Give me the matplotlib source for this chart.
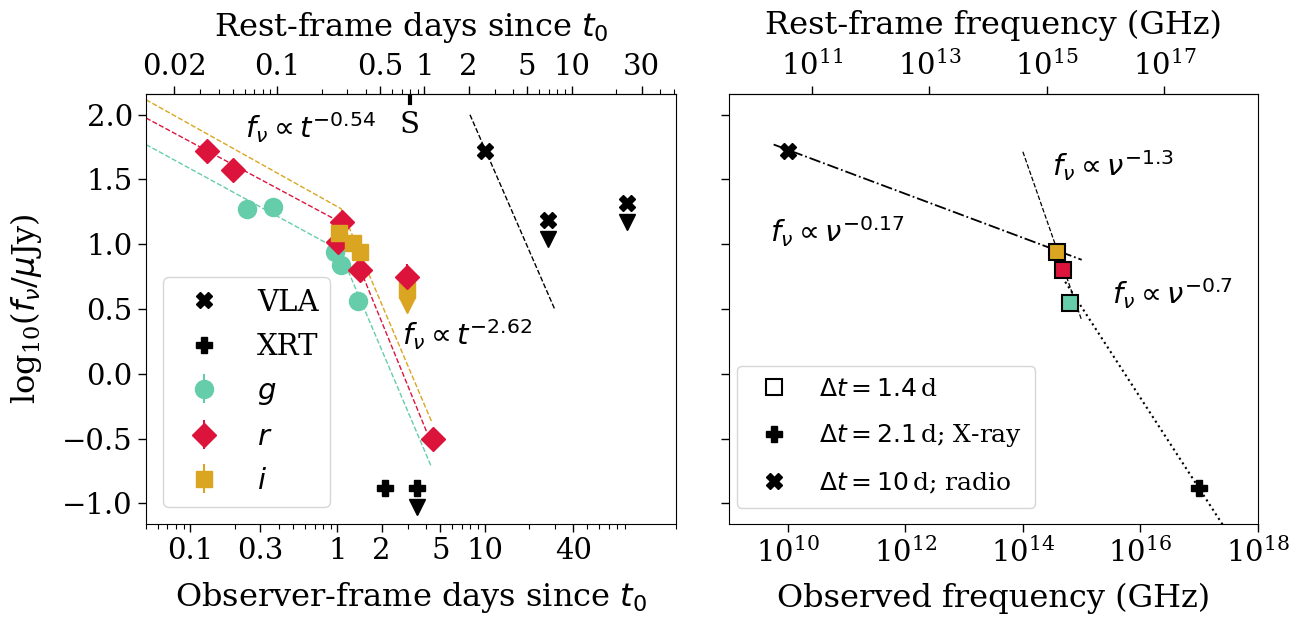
import numpy as np
import matplotlib
matplotlib.use("Agg")
import matplotlib.pyplot as plt
from matplotlib.ticker import FuncFormatter, NullFormatter, NullLocator, LogFormatterSciNotation

plt.rcParams['font.family'] = ['DejaVu Serif']
plt.rcParams['mathtext.fontset'] = 'dejavusans'
plt.rcParams['font.size'] = 21

# redshift factor (1+z) for the rest-frame axes
one_plus_z = 3.9

# ---------- left panel: light curves (observer-frame days, log10 flux in uJy) ----------
g_t = [0.243, 0.366, 0.96, 1.05, 1.39]
g_f = [1.27, 1.29, 0.94, 0.84, 0.56]
g_e = [0.03, 0.03, 0.03, 0.03, 0.04]

r_t = [0.129, 0.195, 1.07, 1.01, 1.42, 2.96, 4.44]
r_f = [1.72, 1.575, 1.17, 1.02, 0.80, 0.75, -0.50]
r_e = [0.03, 0.03, 0.03, 0.03, 0.03, 0.10, 0.04]

i_t = [1.03, 1.28, 1.42]
i_f = [1.09, 1.01, 0.94]
i_e = [0.03, 0.03, 0.03]
i_ul_t = [2.96]
i_ul_f = [0.65]

vla_t = [10.0]
vla_f = [1.72]
vla_ul_t = [27.2, 92.8]
vla_ul_f = [1.19, 1.32]

xrt_t = [2.12]
xrt_f = [-0.88]
xrt_ul_t = [3.47]
xrt_ul_f = [-0.88]

# broken power-law model lines (start, break, end)
g_model_t = [0.05, 1.03, 4.32]
g_model_f = [1.77, 0.955, -0.71]
r_model_t = [0.05, 1.06, 4.08]
r_model_f = [1.975, 1.167, -0.46]
i_model_t = [0.05, 1.06, 4.37]
i_model_f = [2.116, 1.274, -0.37]
radio_model_t = [7.96, 30.2]
radio_model_f = [2.0, 0.49]

spec_epoch = 3.1

# ---------- right panel: SED ----------
sed_nu = [3.8e14, 4.8e14, 6.3e14]
sed_f = [0.94, 0.80, 0.55]
sed_col = ['goldenrod', 'crimson', 'mediumaquamarine']
sed_radio_nu = [1e10]
sed_radio_f = [1.72]
sed_xray_nu = [1e17]
sed_xray_f = [-0.88]

pl017_nu = [10**9.76, 1e15]
pl017_f = [1.77, 0.88]
pl13_nu = [1e14, 1e15]
pl13_f = [1.714, 0.414]
pl07_nu = [10**14.72, 10**17.6]
pl07_f = [0.71, -1.306]

ul_drop = 0.15

fig = plt.figure(figsize=(13.02, 6.18), dpi=100)
ax1 = fig.add_axes([0.1121, 0.1521, 0.4071, 0.6958])
ax2 = fig.add_axes([0.5599, 0.1521, 0.4063, 0.6958], sharey=ax1)

ms = 12
# model lines
ax1.plot(g_model_t, g_model_f, '--', color='mediumaquamarine', lw=1)
ax1.plot(r_model_t, r_model_f, '--', color='crimson', lw=1)
ax1.plot(i_model_t, i_model_f, '--', color='goldenrod', lw=1)
ax1.plot(radio_model_t, radio_model_f, '--', color='k', lw=1)

ax1.plot(vla_t, vla_f, 'X', color='k', ms=ms, label='VLA', ls='none')
ax1.plot(vla_ul_t, vla_ul_f, 'X', color='k', ms=ms, ls='none')
ax1.plot(vla_ul_t, np.array(vla_ul_f) - ul_drop, 'v', color='k', ms=ms, ls='none')
ax1.plot(xrt_t, xrt_f, 'P', color='k', ms=ms, label='XRT', ls='none')
ax1.plot(xrt_ul_t, xrt_ul_f, 'P', color='k', ms=ms, ls='none')
ax1.plot(xrt_ul_t, np.array(xrt_ul_f) - ul_drop, 'v', color='k', ms=ms, ls='none')

ax1.errorbar(g_t, g_f, yerr=g_e, fmt='o', color='mediumaquamarine', ms=13, label='$g$')
ax1.errorbar(r_t, r_f, yerr=r_e, fmt='D', color='crimson', ms=ms, label='$r$')
ax1.errorbar(i_t, i_f, yerr=i_e, fmt='s', color='goldenrod', ms=ms, label='$i$')
ax1.plot(i_ul_t, i_ul_f, 's', color='goldenrod', ms=ms, ls='none')
ax1.plot(i_ul_t, np.array(i_ul_f) - ul_drop + 0.03, 'v', color='goldenrod', ms=ms, ls='none')

ax1.axvline(spec_epoch, ymin=0.978, ymax=1.0, color='k', lw=3)
ax1.text(spec_epoch, 1.92, 'S', ha='center', va='center')
ax1.text(0.235, 1.90, r'$f_\nu \propto t^{-0.54}$', ha='left', va='center')
ax1.text(2.75, 0.30, r'$f_\nu \propto t^{-2.62}$', ha='left', va='center')

ax1.set_xscale('log')
ax1.set_xlim(0.05, 200)
ax1.set_ylim(-1.16, 2.16)
ax1.set_xticks([0.1, 0.3, 1, 2, 5, 10, 40])
ax1.xaxis.set_major_formatter(FuncFormatter(lambda v, p: f'{v:g}'))
ax1.xaxis.set_minor_formatter(NullFormatter())
ax1.set_yticks([-1.0, -0.5, 0.0, 0.5, 1.0, 1.5, 2.0])
ax1.set_xlabel('Observer-frame days since $t_0$', fontsize=23, labelpad=11)
ax1.set_ylabel(r'log$_{\mathdefault{10}}$($f_\nu$/$\mu$Jy)', fontsize=23, labelpad=13)
ax1.legend(loc='lower left', fontsize=21, borderaxespad=0.6, handletextpad=0.8,
           labelspacing=0.55)

top1 = ax1.secondary_xaxis('top', functions=(lambda t: t / one_plus_z, lambda t: t * one_plus_z))
top1.set_ticks([0.02, 0.1, 0.5, 1, 2, 5, 10, 30])
top1.xaxis.set_major_formatter(FuncFormatter(lambda v, p: f'{v:g}'))
top1.xaxis.set_minor_formatter(NullFormatter())
top1.set_xlabel('Rest-frame days since $t_0$', fontsize=23, labelpad=12)

# right panel
ax2.plot(pl017_nu, pl017_f, '-.', color='k', lw=1.3)
ax2.plot(pl13_nu, pl13_f, '--', color='k', lw=0.9)
ax2.plot(pl07_nu, pl07_f, ':', color='k', lw=1.5)
for nu, f, c in zip(sed_nu, sed_f, sed_col):
    ax2.plot(nu, f, 's', color=c, mec='k', mew=1.5, ms=11)
ax2.plot([], [], 's', mfc='white', mec='k', mew=1.5, ms=11, ls='none', label=r'$\Delta t = 1.4\,$d')
ax2.plot(sed_xray_nu, sed_xray_f, 'P', color='k', ms=ms, ls='none', label=r'$\Delta t = 2.1\,$d; X-ray')
ax2.plot(sed_radio_nu, sed_radio_f, 'X', color='k', ms=ms, ls='none', label=r'$\Delta t = 10\,$d; radio')
ax2.text(10**9.69, 1.095, r'$f_\nu \propto \nu^{-0.17}$', ha='left', va='center')
ax2.text(10**14.49, 1.61, r'$f_\nu \propto \nu^{-1.3}$', ha='left', va='center')
ax2.text(10**15.51, 0.62, r'$f_\nu \propto \nu^{-0.7}$', ha='left', va='center')

ax2.set_xscale('log')
ax2.set_xlim(1e9, 1e18)
ax2.set_xticks([1e10, 1e12, 1e14, 1e16, 1e18])
ax2.xaxis.set_minor_locator(NullLocator())
ax2.tick_params(labelleft=False)
ax2.set_xlabel('Observed frequency (GHz)', fontsize=23, labelpad=11)
ax2.legend(loc='lower left', bbox_to_anchor=(0.015, 0.037), borderaxespad=0,
           fontsize=18, handletextpad=0.8, labelspacing=0.85, borderpad=0.5)

top2 = ax2.secondary_xaxis('top', functions=(lambda n: n * one_plus_z, lambda n: n / one_plus_z))
top2.set_ticks([1e11, 1e13, 1e15, 1e17])
top2.xaxis.set_major_formatter(LogFormatterSciNotation())
top2.xaxis.set_minor_locator(NullLocator())
top2.set_xlabel('Rest-frame frequency (GHz)', fontsize=23, labelpad=12)

for a in (ax1, ax2, top1, top2):
    a.tick_params(which='major', length=6, width=1)
    a.tick_params(which='minor', length=3.5, width=0.8)

fig.savefig('out.png', dpi=100)
